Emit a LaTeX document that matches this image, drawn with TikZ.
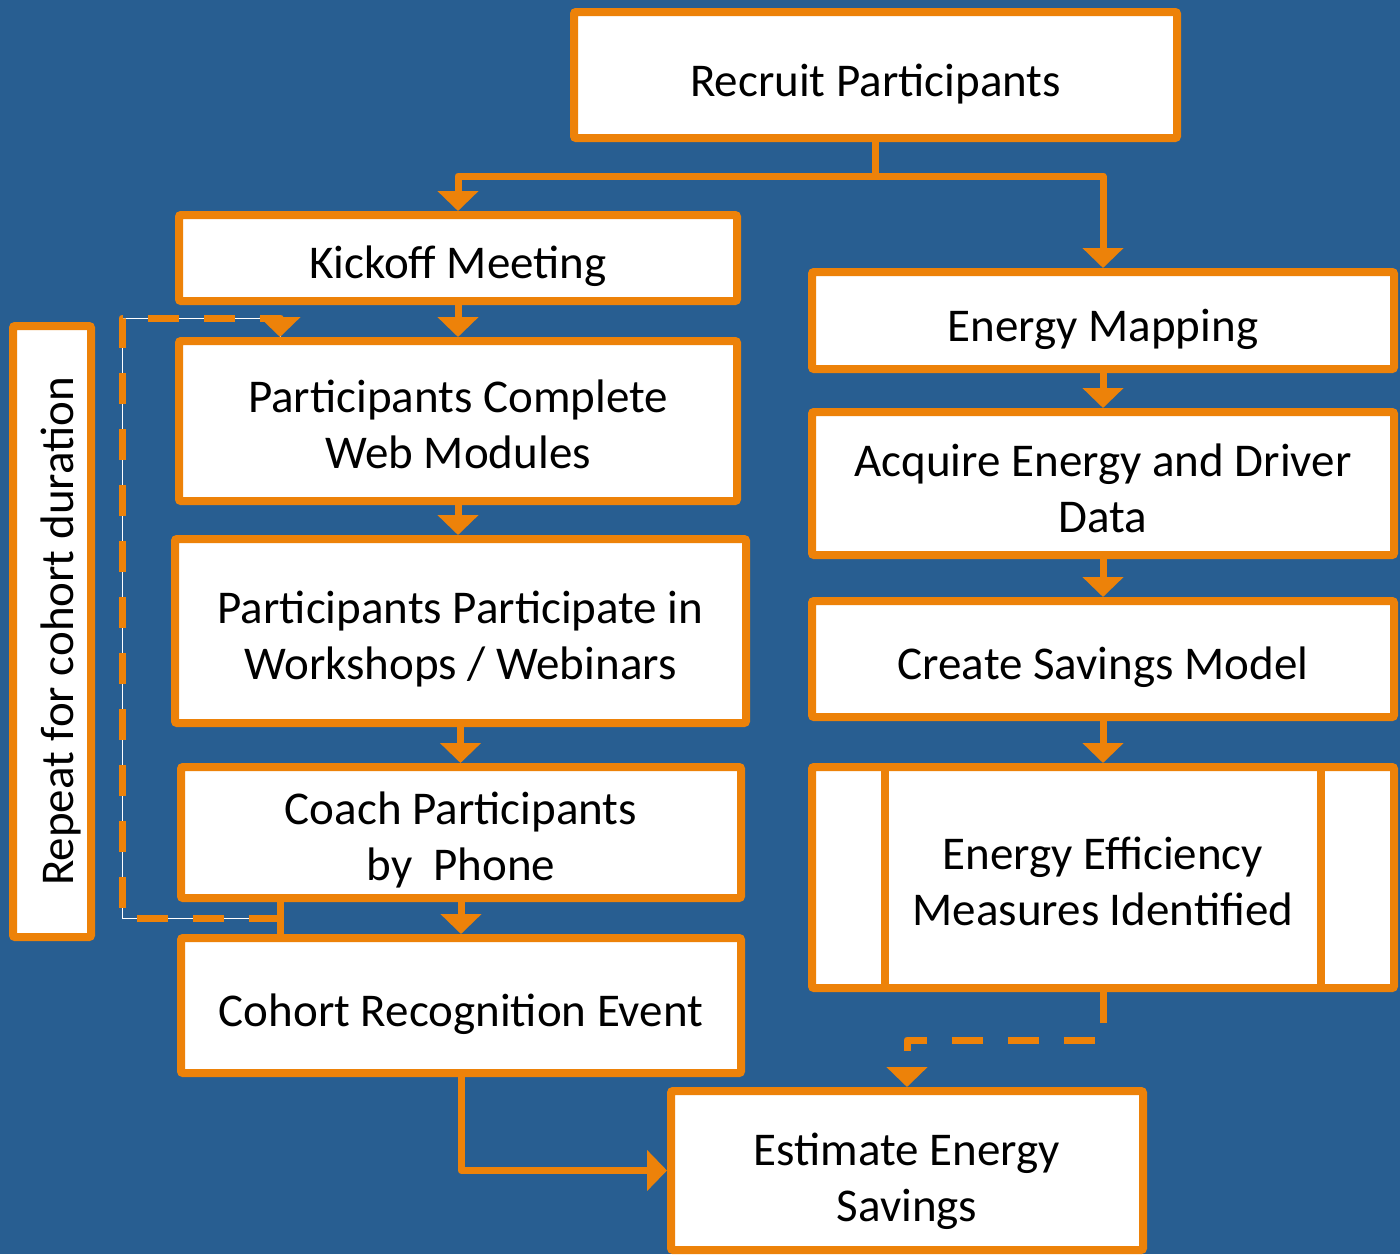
\documentclass[tikz,border=0pt]{standalone}
\usepackage{fontspec}
\setmainfont{Carlito}
\usetikzlibrary{arrows.meta}
\definecolor{bgblue}{RGB}{40,94,145}
\definecolor{boxorange}{RGB}{237,130,9}

\begin{document}
\begin{tikzpicture}[x=1pt, y=-1pt,
    textdrop/.style={execute at begin node={\rule{0pt}{#1}}},
    box/.style={draw=boxorange, line width=8pt, fill=white, rounded corners=2pt,
      align=center, inner sep=0pt, font=\fontsize{47}{56}\selectfont, textdrop=50pt},
    link/.style={draw=boxorange, line width=7pt, line join=round,
      -{Triangle[width=40pt, length=20pt]}},
    dashlink/.style={link, dash pattern=on 31pt off 25pt}]
    \fill[bgblue] (0,0) rectangle (1400,1254);
    \useasboundingbox (0,0) rectangle (1400,1254);

    % left column
    \node[box, minimum width=603pt, minimum height=126pt] (recruit) at (875.5,75) {Recruit Participants};
    \node[box, minimum width=558pt, minimum height=86pt] (kickoff) at (458,258) {Kickoff Meeting};
    \node[box, textdrop=96pt, minimum width=558pt, minimum height=160pt] (web) at (458,421) {Participants Complete\\Web Modules};
    \node[box, textdrop=104pt, minimum width=571pt, minimum height=184pt] (workshops) at (460.5,631) {Participants Participate in\\Workshops / Webinars};
    \node[box, textdrop=104pt, minimum width=560pt, minimum height=131pt] (coach) at (461,832.5) {Coach Participants\\by~~Phone};
    \node[box, minimum width=560pt, minimum height=135pt] (cohort) at (461,1005.5) {Cohort Recognition Event};
    \node[box, rotate=90, minimum width=611pt, minimum height=78pt] (repeat) at (52,631.5) {Repeat for cohort duration};

    % right column
    \node[box, minimum width=582pt, minimum height=97pt] (mapping) at (1103,320.5) {Energy Mapping};
    \node[box, textdrop=98pt, minimum width=582pt, minimum height=143pt] (acquire) at (1103,483.5) {Acquire Energy and Driver\\Data};
    \node[box, minimum width=582pt, minimum height=116pt] (savings) at (1103,659) {Create Savings Model};
    \node[box, textdrop=96pt, minimum width=582pt, minimum height=221pt] (measures) at (1103,877.5) {Energy Efficiency\\Measures Identified};
    \draw[boxorange, line width=8pt] ([shift={(77,4)}]measures.north west) -- ([shift={(77,-4)}]measures.south west);
    \draw[boxorange, line width=8pt] ([shift={(-77,4)}]measures.north east) -- ([shift={(-77,-4)}]measures.south east);
    \node[box, textdrop=110pt, minimum width=472pt, minimum height=159pt] (estimate) at (907,1170.5) {Estimate Energy\\Savings};

    \draw[link] (recruit.south) -- ++(0,34) coordinate (split) -| (kickoff.north);
    \draw[link] (split) -| (mapping.north);
    \draw[link] (kickoff.south) -- (kickoff.south |- web.north);
    \draw[link] (web.south) -- (web.south |- workshops.north);
    \draw[link] (workshops.south) -- (workshops.south |- coach.north);
    \draw[link] (coach.south) -- (coach.south |- cohort.north);
    \draw[link] (mapping.south) -- (acquire.north);
    \draw[link] (acquire.south) -- (savings.north);
    \draw[link] (savings.south) -- (measures.north);
    \draw[link] (cohort.south) |- (estimate.west);
    \draw[dashlink] (measures.south) -- ++(0,48) -| (estimate.north);

    % repeat loop
    \draw[boxorange, line width=7pt] ([xshift=-181pt]coach.south) -- coordinate (loopstart) ([xshift=-181pt]cohort.north);
    \coordinate (loopcorner) at (122,318);
    \draw[dashlink, preaction={draw=white, line width=1pt, solid, -}] (loopstart) -| (loopcorner) -| ([xshift=-178pt]web.north);
\end{tikzpicture}
\end{document}
